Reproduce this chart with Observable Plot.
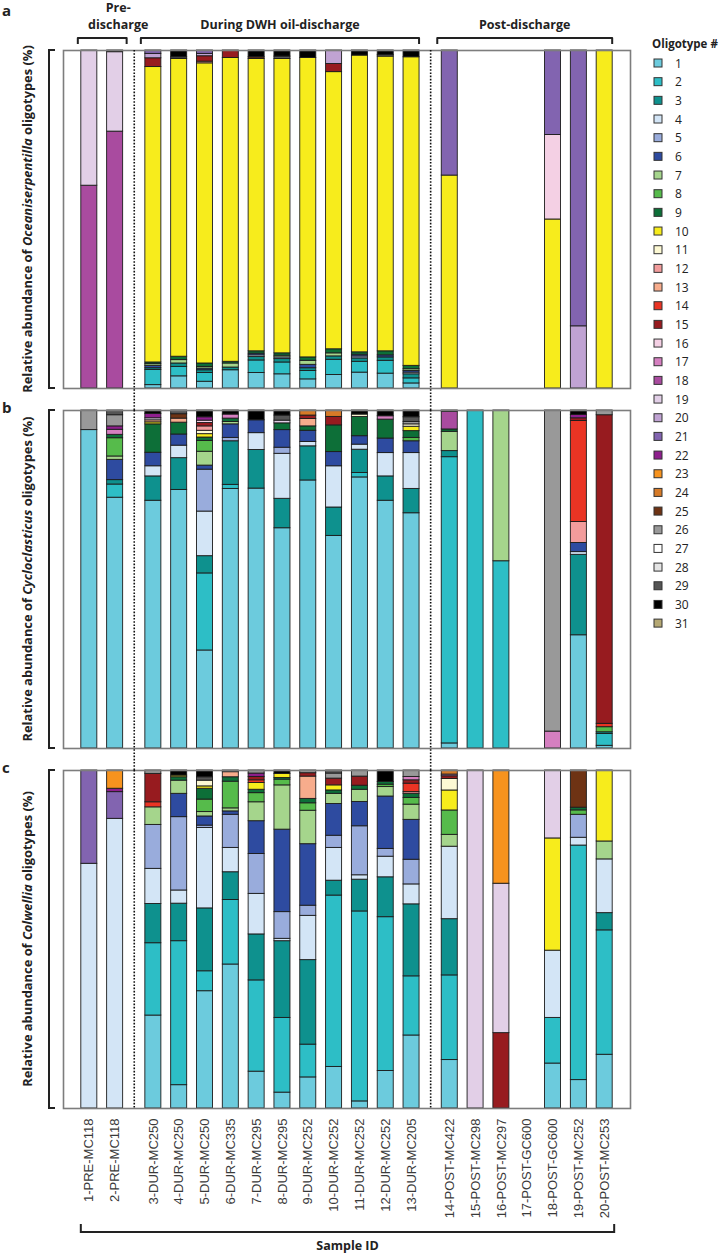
<!DOCTYPE html>
<html><head><meta charset="utf-8">
<script src="https://cdn.jsdelivr.net/npm/d3@7"></script>
<script src="https://cdn.jsdelivr.net/npm/@observablehq/plot@0.6"></script>
<style>html,body{margin:0;padding:0;background:#fff;overflow:hidden}#chart svg{display:block;max-width:none}</style>
</head><body><div id="chart"></div><script>
// ---------- data ----------
const samples = ["1-PRE-MC118","2-PRE-MC118","3-DUR-MC250","4-DUR-MC250","5-DUR-MC250","6-DUR-MC335","7-DUR-MC295","8-DUR-MC295","9-DUR-MC252","10-DUR-MC252","11-DUR-MC252","12-DUR-MC252","13-DUR-MC205","14-POST-MC422","15-POST-MC298","16-POST-MC297","17-POST-GC600","18-POST-GC600","19-POST-MC252","20-POST-MC253"];
const phases = ["Pre","Pre","During","During","During","During","During","During","During","During","During","During","During","Post","Post","Post","Post","Post","Post","Post"];
const phaseLabels = [["Pre-","discharge"],["During DWH oil-discharge"],["Post-discharge"]];
const panels = ["a","b","c"];
const genera = ["Oceaniserpentilla","Cycloclasticus","Colwellia"];
const oligotypes = d3.range(1, 32);
const oligoColors = ["#6ccbdd","#2dbec6","#0e918e","#d3e5f6","#99acdc","#2e4ba0","#a5d58c","#56bb4b","#0d6f38","#f7ec1c","#fdf9d4","#f29c9c","#f7ac8c","#ea3424","#971b1f","#f4d0e4","#d57fc0","#a94b9f","#e2cfe7","#c0a3d3","#8264b0","#8e1f8d","#f7931e","#d77b28","#6e3314","#999999","#ffffff","#e4e4e4","#555555","#000000","#b5a873"];

// panel a: Oceaniserpentilla (oligotype: % per sample)
const panelA = [
  {18:60, 19:40},
  {18:76, 19:23.5, 30:0.5},
  {1:1, 2:4.5, 3:0.5, 6:0.7, 7:0.5, 9:0.5, 10:87.4, 15:2.6, 20:1.3, 21:1.0},
  {1:3.6, 2:2.8, 3:1, 7:1, 9:1, 10:88.1, 29:0.5, 30:2.0},
  {1:2, 2:2.6, 3:0.8, 6:0.5, 7:0.5, 9:1.0, 10:88.8, 13:0.5, 15:1.6, 20:0.7, 21:1.0},
  {1:5.4, 3:0.8, 7:1.2, 9:0.5, 10:89.9, 15:2.2},
  {1:4.6, 2:3.7, 3:1, 4:0.5, 6:0.5, 9:0.7, 10:86.5, 25:0.5, 30:2.0},
  {1:4.2, 2:3.5, 3:1, 5:0.5, 7:0.5, 9:0.7, 10:87.1, 29:0.7, 30:1.8},
  {1:2.7, 2:2.5, 3:0.8, 6:1.0, 7:1.2, 9:1.0, 10:88.6, 30:2.2},
  {1:4.0, 2:4.5, 3:1.0, 7:0.9, 9:1.2, 10:82, 15:2.4, 20:4.0},
  {1:4.7, 2:3.2, 3:1, 5:0.6, 6:0.5, 9:0.7, 10:87.8, 30:1.5},
  {1:4.4, 2:3.8, 3:1, 6:0.6, 9:1.2, 10:87.2, 29:0.5, 30:1.3},
  {1:1.5, 2:1.5, 3:1.2, 4:0.5, 6:0.5, 7:0.5, 9:1.0, 10:91.3, 30:2.0},
  {10:63, 21:37},
  {},
  {},
  {},
  {10:50, 16:25, 21:25},
  {20:18.4, 21:81.6},
  {10:100}
];
// panel b: Cycloclasticus
const panelB = [
  {1:94.2, 26:5.8},
  {1:74.2, 2:3.9, 3:1.3, 6:6.0, 7:1.0, 8:5.4, 9:1.0, 17:1.5, 22:1.0, 26:3.3, 29:1.4},
  {1:73.3, 3:7.2, 4:3.0, 6:4.0, 9:8.4, 10:0.6, 13:0.6, 19:0.6, 22:1.3, 30:1.0},
  {1:76.5, 3:9.4, 4:3.7, 6:3.3, 9:3.5, 13:1.2, 25:1.3, 29:1.1},
  {1:29, 2:22.8, 3:5.1, 4:13.2, 5:12.4, 6:1.2, 7:4.1, 8:3.2, 9:1.0, 10:1.0, 11:1.0, 12:1.3, 15:1.0, 16:0.7, 22:1.0, 30:2.0},
  {1:76.8, 2:1.2, 3:12.9, 5:1.0, 6:4.0, 7:0.7, 9:1.0, 17:1.2, 30:1.2},
  {1:76.9, 3:11.4, 4:5.0, 6:3.8, 30:2.9},
  {1:65.1, 3:8.7, 4:13.3, 5:1.8, 6:5.2, 9:2.0, 19:0.8, 29:1.5, 30:1.5},
  {1:79.3, 3:10.1, 4:1.3, 6:3.3, 9:1.3, 13:2.2, 15:1.0, 24:1.5},
  {1:62.9, 3:8.4, 4:12.2, 6:4.2, 9:7.9, 15:2.5, 24:1.9},
  {1:80.2, 2:1.3, 3:6.9, 4:1.5, 6:2.5, 9:5.7, 11:0.7, 30:1.2},
  {1:73.3, 3:7.2, 4:6.9, 6:4.3, 9:5.6, 17:1.0, 30:1.7},
  {1:69.6, 3:7.2, 4:10.6, 6:3.5, 8:1.0, 9:2.0, 10:1.3, 11:0.7, 26:0.7, 29:1.4, 30:2.0},
  {1:1.5, 2:84.6, 3:1.8, 7:5.7, 9:0.7, 18:5.2, 30:0.4},
  {2:100},
  {2:55.4, 7:44.6},
  {},
  {17:5, 26:95},
  {1:33.5, 3:23.8, 4:0.8, 6:2.7, 12:6.2, 14:29.9, 15:0.8, 22:1.0, 30:1.3},
  {1:0.8, 2:3.5, 3:0.5, 8:1.5, 14:1.0, 15:91.3, 26:1.4}
];
// panel c: Colwellia
const panelC = [
  {4:72.4, 21:27.6},
  {4:85.7, 21:7.9, 22:1.0, 23:5.4},
  {1:27.5, 2:21.4, 3:11.6, 4:10.4, 5:13.0, 7:5.2, 14:1.5, 15:8.4, 26:1.0},
  {1:6.9, 2:42.6, 3:11.1, 4:3.9, 5:21.7, 6:6.9, 7:3.9, 9:1.0, 10:0.5, 30:1.5},
  {1:34.7, 2:5.9, 3:18.6, 4:23.8, 5:0.7, 6:2.7, 7:1.3, 8:3.7, 9:3.2, 10:0.7, 11:1.7, 29:1.0, 30:2.0},
  {1:42.6, 2:19.1, 3:8.2, 4:7.2, 5:9.8, 6:1.0, 7:0.9, 8:7.9, 9:1.3, 13:1.5, 26:0.5},
  {1:10.9, 2:27.0, 3:13.6, 4:12.0, 5:11.8, 6:9.7, 7:5.6, 8:2.7, 9:1.0, 10:2.0, 14:0.8, 15:1.0, 22:1.0, 26:0.9},
  {1:4.7, 2:22.1, 3:22.7, 4:0.7, 5:7.9, 6:24.4, 7:13.1, 8:1.7, 9:0.5, 10:1.2, 30:1.0},
  {1:9.2, 2:9.7, 3:25.0, 4:13.1, 5:3.0, 6:18.2, 7:9.9, 8:2.2, 9:1.3, 13:6.6, 15:1.0, 26:0.8},
  {1:12.3, 2:50.7, 3:4.4, 4:9.7, 5:3.6, 6:9.4, 7:3.0, 9:1.0, 10:1.5, 15:2.0, 26:1.5, 29:0.9},
  {1:2.1, 2:56.2, 3:9.4, 4:1.3, 5:14.5, 6:7.2, 7:3.6, 9:1.2, 15:2.7, 26:1.8},
  {1:11.1, 2:45.5, 3:11.8, 4:6.1, 5:2.3, 6:15.5, 7:2.8, 8:0.7, 9:0.8, 30:3.4},
  {1:21.6, 2:17.5, 3:21.3, 4:5.9, 5:7.3, 6:11.8, 7:4.5, 8:2.0, 9:1.2, 12:0.5, 14:2.5, 15:1.0, 17:1.0, 26:1.9},
  {1:14.3, 2:25.0, 3:16.6, 4:21.4, 7:3.5, 8:7.2, 10:5.9, 11:3.4, 15:0.8, 17:0.5, 24:1.2},
  {19:100},
  {15:22.3, 19:44.2, 23:33.5},
  {},
  {1:13.3, 2:13.5, 4:19.9, 10:33.2, 19:20.1},
  {1:8.4, 2:69.4, 4:2.3, 5:6.8, 8:1.3, 9:0.8, 25:11.0},
  {1:15.9, 2:36.8, 3:5.1, 4:15.9, 7:5.3, 10:21.0}
];

// ---------- derived ----------
const phaseOrder = ["Pre","During","Post"];
const GAP = 0.48; // extra spacing between phases (in bar slots)
const pos = samples.map((s, i) => i + phaseOrder.indexOf(phases[i]) * GAP);
const rows = [];
[panelA, panelB, panelC].forEach((arr, p) => {
  arr.forEach((comp, i) => {
    const keys = Object.keys(comp).map(Number).sort((a, b) => a - b);
    const total = d3.sum(keys, k => comp[k]);
    let acc = 0;
    keys.forEach(k => {
      const v = comp[k] / total * 100;
      rows.push({panel: panels[p], sample: samples[i], pos: pos[i], olig: k, y1: acc, y2: acc + v});
      acc += v;
    });
  });
});
const dividers = [];
for (let i = 1; i < samples.length; i++) if (phases[i] !== phases[i-1]) dividers.push((pos[i] + pos[i-1]) / 2);
const divRows = panels.flatMap(p => dividers.map(x => ({panel: p, x})));
const labelRows = samples.map((s, i) => ({name: s, pos: pos[i]}));
const HALF = 0.31;

const chart = Plot.plot({
  width: 724, height: 1254,
  marginTop: 50, marginBottom: 146, marginLeft: 63, marginRight: 94,
  style: {fontFamily: "Liberation Sans, Arial, sans-serif", background: "#fff"},
  x: {domain: [-1, pos[pos.length-1] + 1], axis: null},
  y: {domain: [0, 100], axis: null},
  fy: {domain: panels, axis: null, paddingInner: 0.062, paddingOuter: 0},
  color: {type: "ordinal", domain: oligotypes, range: oligoColors},
  marks: [
    Plot.rect(rows, {x1: d => d.pos - HALF, x2: d => d.pos + HALF, y1: "y1", y2: "y2", fy: "panel", fill: "olig", stroke: "#1c1c1c", strokeWidth: 0.9}),
    Plot.frame({stroke: "#7d7d7d", strokeWidth: 1.6}),
    Plot.ruleX(divRows.filter(d => d.panel !== "c"), {x: "x", fy: "panel", stroke: "#111", strokeWidth: 1.6, strokeDasharray: "1.6,1.6", insetBottom: -23}),
    Plot.ruleX(divRows.filter(d => d.panel === "c"), {x: "x", fy: "panel", stroke: "#111", strokeWidth: 1.6, strokeDasharray: "1.6,1.6"}),
    Plot.text(labelRows, {x: "pos", text: "name", fy: () => "c", frameAnchor: "bottom", rotate: -90, textAnchor: "end", lineAnchor: "middle", dy: 10, fontSize: 13, fill: "#3a3a3a"})
  ]
});
document.getElementById("chart").appendChild(chart);

// ---------- annotations ----------
const svg = d3.select(chart);
const xs = chart.scale("x");
const X = v => xs.apply(v);
let fyS = null; try { fyS = chart.scale("fy"); } catch (e) {}
const bw = fyS && fyS.bandwidth ? fyS.bandwidth : 338;
const panelTop = p => fyS ? fyS.apply(p) : 50 + panels.indexOf(p) * 360;
const ink = "#222";
const bold = "'Open Sans', Lato, sans-serif";
const g = svg.append("g").attr("text-anchor", "start");

// panel letters
panels.forEach(p => {
  const yb = p === "a" ? 16 : panelTop(p) + 3;
  g.append("text").attr("x", 2).attr("y", yb).attr("text-anchor", "start").attr("font-family", bold).attr("font-weight", 700).attr("font-size", 15).attr("fill", ink).text(p);
});

// y labels with left brackets; font fitted so panel a's label spans ~348px like the reference
let yFont = 12;
panels.forEach((p, k) => {
  const t = panelTop(p), b = t + bw;
  g.append("path").attr("d", `M55,${t}H49V${b}H55`).attr("fill", "none").attr("stroke", ink).attr("stroke-width", 2);
  const tx = g.append("text").attr("transform", `translate(32,${(t + b) / 2}) rotate(-90)`)
    .attr("text-anchor", "middle").attr("font-family", bold).attr("font-weight", 700).attr("font-size", yFont).attr("fill", ink);
  tx.append("tspan").text("Relative abundance of ");
  tx.append("tspan").attr("font-style", "italic").text(genera[k]);
  tx.append("tspan").text(" oligotypes (%)");
  if (k === 0) {
    const len = tx.node().getComputedTextLength();
    if (len > 0) yFont = Math.max(10, Math.min(14, yFont * 348 / len));
    tx.attr("font-size", yFont);
  }
});

// phase brackets + labels on top
phaseOrder.forEach((ph, k) => {
  const idx = samples.map((s, i) => i).filter(i => phases[i] === ph);
  const x0 = X(pos[idx[0]] - HALF) - (k === 0 ? 3 : 4), x1 = X(pos[idx[idx.length-1]] + HALF) + (k === 0 ? 4 : 0);
  g.append("path").attr("d", `M${x0},44V38H${x1}V44`).attr("fill", "none").attr("stroke", ink).attr("stroke-width", 2).attr("stroke-linejoin", "round");
  const lines = phaseLabels[k];
  const cx = k === 0 ? (x0 + x1) / 2 + 16 : (x0 + x1) / 2;
  lines.forEach((ln, j) => {
    g.append("text").attr("x", cx).attr("y", 29 - (lines.length - 1 - j) * 17).attr("text-anchor", "middle")
      .attr("font-family", bold).attr("font-weight", 700).attr("font-size", 12.5).attr("fill", ink).text(ln);
  });
});

// bottom bracket and axis title
{
  const x0 = X(pos[0] - HALF), x1 = X(pos[pos.length-1] + HALF) + 2;
  g.append("path").attr("d", `M${x0},1224V1232H${x1}V1224`).attr("fill", "none").attr("stroke", ink).attr("stroke-width", 2);
  g.append("text").attr("x", (x0 + x1) / 2).attr("y", 1250).attr("text-anchor", "middle")
    .attr("font-family", bold).attr("font-weight", 700).attr("font-size", 12.5).attr("fill", ink).text("Sample ID");
}

// legend
{
  const color = chart.scale("color");
  const lg = svg.append("g").attr("transform", "translate(652,0)").attr("text-anchor", "start");
  lg.append("text").attr("x", 0).attr("y", 48).attr("text-anchor", "start").attr("font-family", bold).attr("font-weight", 700).attr("font-size", 11.5).attr("fill", ink).text("Oligotype #");
  oligotypes.forEach((o, i) => {
    const cy = 63 + i * 18.67;
    lg.append("rect").attr("x", 2).attr("y", cy - 4).attr("width", 8).attr("height", 8)
      .attr("fill", color.apply(o)).attr("stroke", "#333").attr("stroke-width", 1);
    lg.append("text").attr("x", 23).attr("y", cy + 4.5).attr("text-anchor", "start").attr("font-family", "'Open Sans', sans-serif").attr("font-size", 12).attr("fill", ink).text(o);
  });
}
</script></body></html>
